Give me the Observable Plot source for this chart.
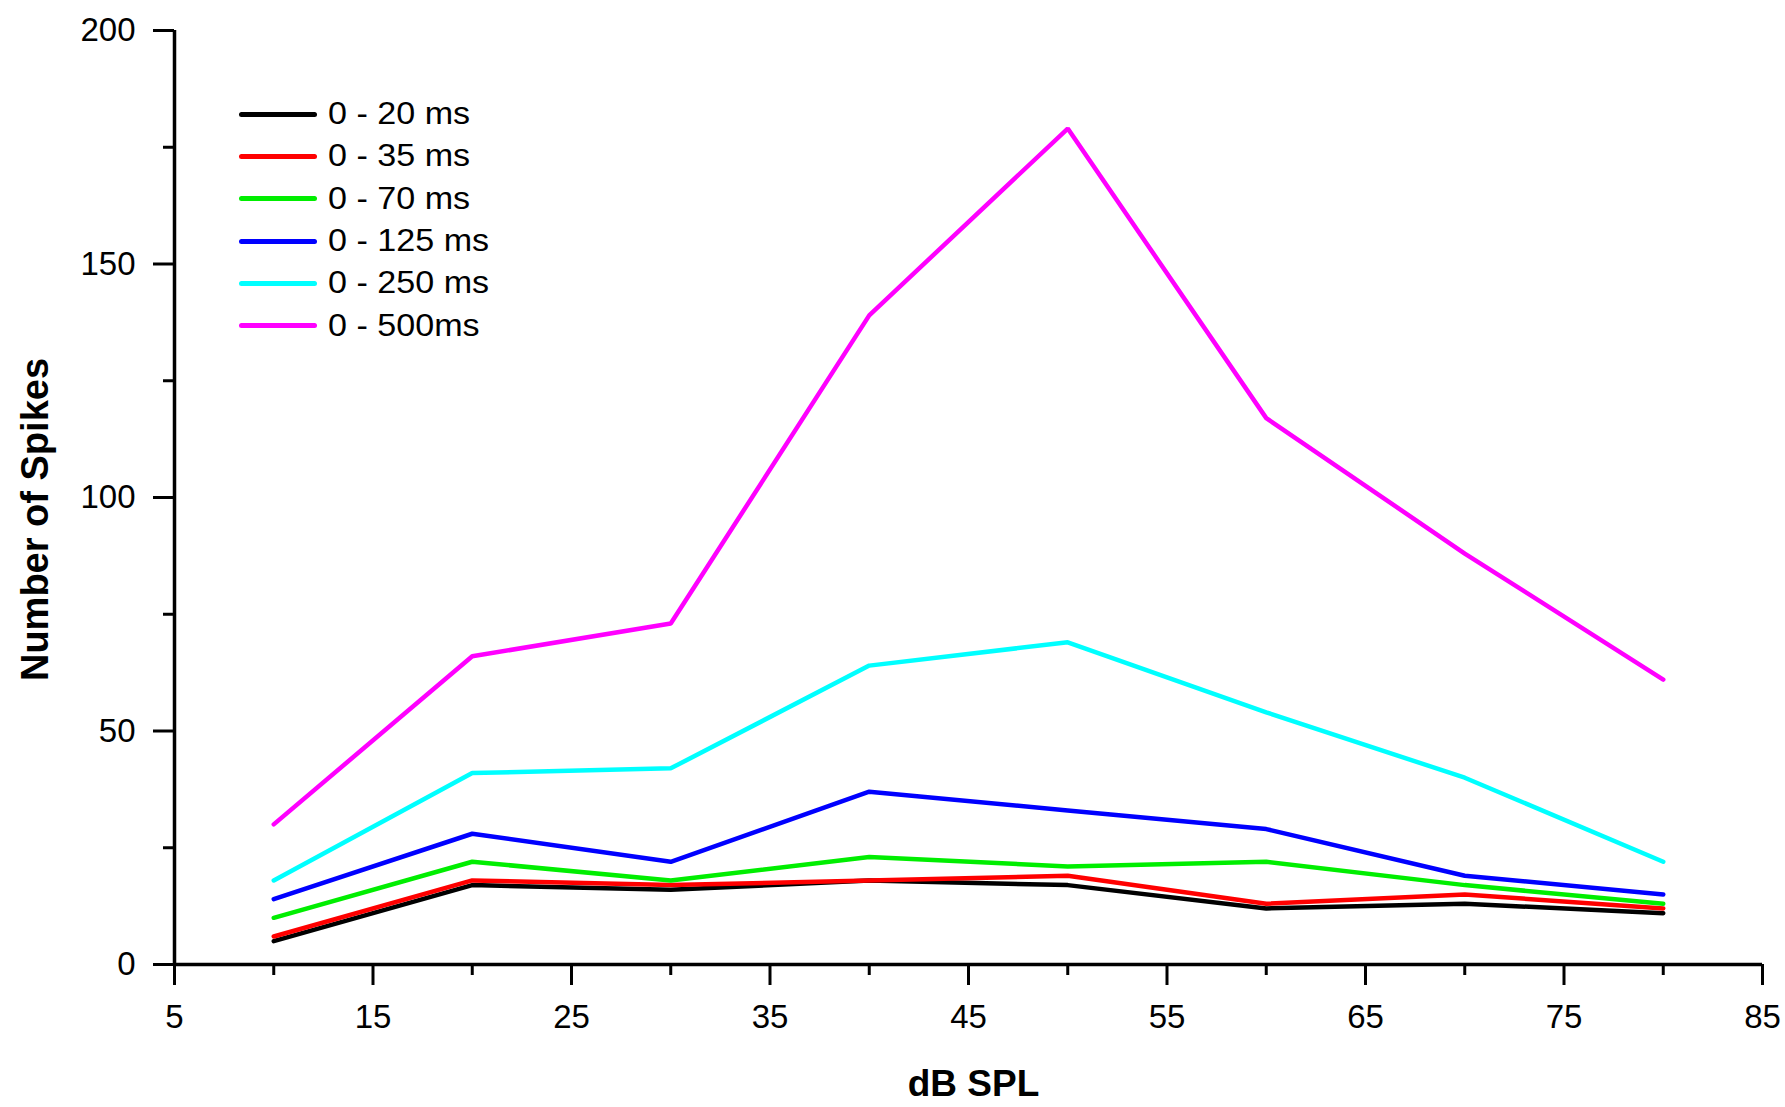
<!DOCTYPE html>
<html>
<head>
<meta charset="utf-8">
<script src="https://cdn.jsdelivr.net/npm/d3@7"></script>
<script src="https://cdn.jsdelivr.net/npm/@observablehq/plot@0.6"></script>
<style>
  html, body { margin: 0; padding: 0; background: #fff; }
  #wrap { position: relative; width: 1785px; height: 1107px; font-family: "Liberation Sans", Arial, sans-serif; }
  #legend { position: absolute; left: 239px; top: 93px; }
  .row { display: flex; align-items: center; height: 42.3px; }
  .sw { width: 78px; height: 5px; border-radius: 2.5px; }
  .lb { margin-left: 11px; font-size: 31px; color: #000; white-space: pre; transform: scaleX(1.1); transform-origin: left center; }
</style>
</head>
<body>
<div id="wrap"></div>
<script>
const dbSPL = [10, 20, 30, 40, 50, 60, 70, 80];
const seriesNames = ["0 - 20 ms", "0 - 35 ms", "0 - 70 ms", "0 - 125 ms", "0 - 250 ms", "0 - 500ms"];
const seriesColors = ["#000000", "#ff0000", "#00ee00", "#0000ff", "#00ffff", "#ff00ff"];
const spikes20 = [5, 17, 16, 18, 17, 12, 13, 11];
const spikes35 = [6, 18, 17, 18, 19, 13, 15, 12];
const spikes70 = [10, 22, 18, 23, 21, 22, 17, 13];
const spikes125 = [14, 28, 22, 37, 33, 29, 19, 15];
const spikes250 = [18, 41, 42, 64, 69, 54, 40, 22];
const spikes500 = [30, 66, 73, 139, 179, 117, 88, 61];
const xMajorTicks = [5, 15, 25, 35, 45, 55, 65, 75, 85];
const xMinorTicks = [10, 20, 30, 40, 50, 60, 70, 80];
const yMajorTicks = [0, 50, 100, 150, 200];
const yMinorTicks = [25, 75, 125, 175];

const allSeries = [spikes20, spikes35, spikes70, spikes125, spikes250, spikes500];
const rows = [];
allSeries.forEach((vals, i) => {
  vals.forEach((v, j) => rows.push({series: seriesNames[i], db: dbSPL[j], n: v}));
});

const chart = Plot.plot({
  width: 1785,
  height: 1107,
  marginLeft: 174,
  marginRight: 23,
  marginTop: 30,
  marginBottom: 143,
  style: {fontFamily: "Liberation Sans, Arial, sans-serif", fontSize: "33px", color: "#000", background: "#fff"},
  x: {domain: [5, 85]},
  y: {domain: [0, 200]},
  color: {domain: seriesNames, range: seriesColors},
  marks: [
    Plot.axisX({ticks: xMajorTicks, tickSize: 21, tickPadding: 19, strokeWidth: 3, fontSize: 33, label: null, tickFormat: d => String(d)}),
    Plot.axisX({ticks: xMinorTicks, tickSize: 11, strokeWidth: 3, text: null, label: null}),
    Plot.axisY({ticks: yMajorTicks, tickSize: 21, tickPadding: 18, strokeWidth: 3, fontSize: 33, label: null, tickFormat: d => String(d)}),
    Plot.axisY({ticks: yMinorTicks, tickSize: 11, strokeWidth: 3, text: null, label: null}),
    Plot.ruleY([0], {stroke: "#000", strokeWidth: 3.5}),
    Plot.ruleX([5], {stroke: "#000", strokeWidth: 3.5}),
    Plot.line(rows, {x: "db", y: "n", z: "series", stroke: "series", strokeWidth: 4.5, strokeLinejoin: "miter"}),
    Plot.text(["Number of Spikes"], {frameAnchor: "left", textAnchor: "middle", lineAnchor: "middle", rotate: -90, dx: -139, dy: 22, fontWeight: "bold", fontSize: 38, letterSpacing: "0.8px"}),
    Plot.text(["dB SPL"], {frameAnchor: "bottom", textAnchor: "middle", lineAnchor: "middle", dx: 5, dy: 120, fontWeight: "bold", fontSize: 37})
  ]
});

const wrap = document.getElementById("wrap");
wrap.appendChild(chart);
const legend = document.createElement("div");
legend.id = "legend";
seriesNames.forEach((name, i) => {
  const r = document.createElement("div");
  r.className = "row";
  const sw = document.createElement("div");
  sw.className = "sw";
  sw.style.background = seriesColors[i];
  const lb = document.createElement("div");
  lb.className = "lb";
  lb.textContent = name;
  r.appendChild(sw);
  r.appendChild(lb);
  legend.appendChild(r);
});
wrap.appendChild(legend);
</script>
</body>
</html>
